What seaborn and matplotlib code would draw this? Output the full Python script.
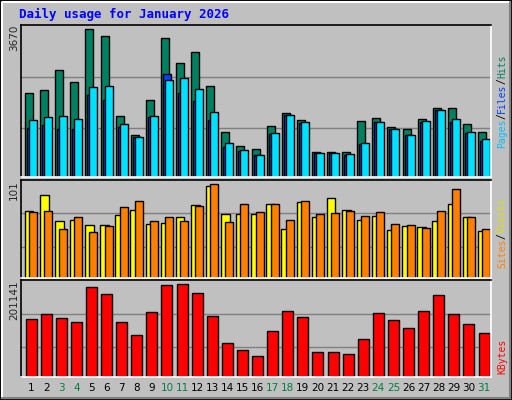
import matplotlib
matplotlib.use("Agg")
import matplotlib.pyplot as plt
import seaborn as sns
import pandas as pd
import numpy as np
from matplotlib.patches import Rectangle
from matplotlib.lines import Line2D

sns.set_style("white")
plt.rcParams['font.family'] = ['DejaVu Sans']

days = list(range(1, 32))
hits = [2100,2150,2648,2349,3670,3495,1527,1054,1926,3445,2822,3096,2274,1129,780,706,1278,1602,1428,631,631,631,1403,1477,1253,1204,1453,1726,1726,1328,1129]
files = [1228,1303,1204,1204,2050,1926,1253,1004,1502,2548,2100,1901,1428,755,656,556,1079,1552,1353,606,606,556,830,1378,1204,1054,1378,1677,1378,1104,905]
pages = [1428,1502,1527,1453,2249,2274,1328,1004,1527,2399,2449,2175,1627,855,681,556,1104,1552,1378,606,606,581,855,1378,1204,1054,1403,1677,1453,1129,955]
visits = [69,86,59,60,55,55,65,70,56,57,63,75,95,66,66,66,76,50,78,63,82,70,60,64,49,54,53,59,76,63,48]
sites = [68,69,51,63,47,54,73,79,59,63,59,74,97,58,76,68,76,60,79,66,67,69,64,68,56,55,52,69,92,63,51]
kbytes = [121530,132190,123660,115130,187620,174830,115130,87410,136450,191890,194020,176960,127930,70360,57570,44770,95940,138590,125790,53300,53300,49040,78890,134320,119400,102340,138590,172700,132190,110870,91680]
weekend = [3,4,10,11,17,18,24,25,31]
max_labels = ["3670", "101", "201141"]

BG = "#C0C0C0"
fig = plt.figure(figsize=(5.12, 4.0), dpi=100, facecolor=BG)

def bars(ax, offset, vals, width, color):
    df = pd.DataFrame({"x": [d + offset for d in days], "y": vals})
    sns.barplot(data=df, x="x", y="y", native_scale=True, width=width,
                color=color, edgecolor="black", linewidth=1.0, saturation=1,
                ax=ax, errorbar=None)

def style(ax, top, grid):
    ax.set_facecolor(BG)
    ax.set_xlim(0.335, 31.46)
    ax.set_ylim(0, top)
    ax.set_xticks([]); ax.set_yticks([])
    ax.set_xlabel(""); ax.set_ylabel("")
    for g in grid:
        ax.axhline(g, color="#808080", lw=1, zorder=0)
    ax.spines['top'].set_color('black'); ax.spines['left'].set_color('black')
    ax.spines['bottom'].set_color('white'); ax.spines['right'].set_color('white')
    for s in ax.spines.values():
        s.set_linewidth(1.2)

def px(x0, y0, x1, y1):
    return [x0/512, 1-y1/400, (x1-x0)/512, (y1-y0)/400]

ax1 = fig.add_axes(px(21, 25, 491, 177))
bars(ax1, -0.13, hits, 0.53, "#008060")
bars(ax1, 0.0, files, 0.53, "#0040FF")
bars(ax1, 0.13, pages, 0.53, "#00E0FF")
style(ax1, 3670*455/442, [1229, 2491])

ax2 = fig.add_axes(px(21, 180, 491, 278))
bars(ax2, -0.13, visits, 0.58, "#FFFF00")
bars(ax2, 0.13, sites, 0.53, "#FF8000")
style(ax2, 101, [31.8, 66.7])

ax3 = fig.add_axes(px(21, 280, 491, 377))
bars(ax3, 0.0, kbytes, 0.73, "#FF0000")
style(ax3, 201141*286/283, [61830, 132200])

for d in days:
    x = ax3.transData.transform((d, 0))[0] / fig.dpi / 5.12
    fig.text(x, 1-388/400, str(d), ha="center", va="center", fontsize=7.5,
             color="#008040" if d in weekend else "black")

fig.text(19/512, 1-14/400, "Daily usage for January 2026", color="#0000FF",
         fontsize=9, fontweight="bold", family="DejaVu Sans Mono", va="center", ha="left")

for lab, y in zip(max_labels, [25, 180, 280]):
    fig.text(14/512, 1-y/400, lab, rotation=90, ha="center", va="top", fontsize=7.5)

FS = 7.0
CW = 0.602 * FS * 100 / 72  # monospace char advance in px
def rlabel(parts, ybottom):
    y = ybottom
    for txt, col in parts:
        fig.text(502/512, 1-y/400, txt, rotation=90, ha="center", va="bottom",
                 fontsize=FS, color=col, family="DejaVu Sans Mono")
        y -= len(txt) * CW
rlabel([("Pages", "#00C0FF"), ("/", "black"), ("Files", "#0040FF"), ("/", "black"), ("Hits", "#008060")], 148)
rlabel([("Sites", "#FF8000"), ("/", "black"), ("Visits", "#E0E000")], 268)
rlabel([("KBytes", "#FF0000")], 374)

fig.add_artist(Rectangle((0, 0), 1, 1, transform=fig.transFigure, fill=False, edgecolor="black", lw=2))
fig.add_artist(Line2D([2/512, 2/512, 510/512], [2/400, 398/400, 398/400], transform=fig.transFigure, color="white", lw=1.5))
fig.add_artist(Line2D([2/512, 510/512, 510/512], [2/400, 2/400, 398/400], transform=fig.transFigure, color="#808080", lw=1.5))

fig.savefig("out.png", dpi=100, facecolor=BG)
